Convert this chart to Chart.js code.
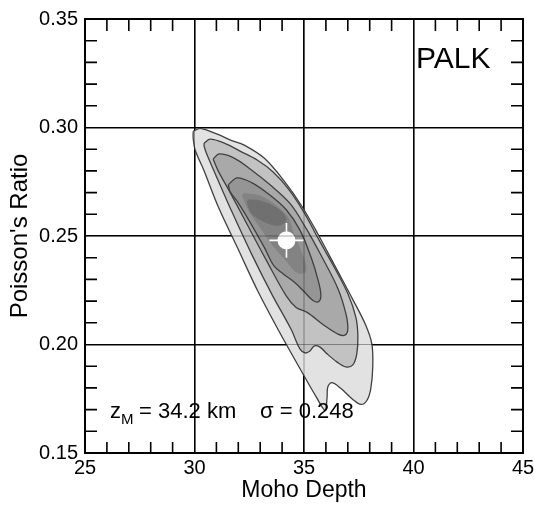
<!DOCTYPE html>
<html>
<head>
<meta charset="utf-8">
<title>PALK H-k stacking</title>
<script src="https://cdn.jsdelivr.net/npm/chart.js@4.4.1/dist/chart.umd.min.js"></script>
<style>
    html, body { margin: 0; padding: 0; background: #fff; }
    canvas { display: block; }
</style>
</head>
<body>
<canvas id="hkChart" width="534" height="505"></canvas>
<script>
const xTickValues = [25, 30, 35, 40, 45];
const yTickValues = [0.15, 0.20, 0.25, 0.30, 0.35];
const xMinorTicks = [26, 27, 28, 29, 31, 32, 33, 34, 36, 37, 38, 39, 41, 42, 43, 44];
const yMinorTicks = [0.16, 0.17, 0.18, 0.19, 0.21, 0.22, 0.23, 0.24, 0.26, 0.27, 0.28, 0.29, 0.31, 0.32, 0.33, 0.34];

// contour levels, outermost first (Moho depth in km, Poisson's ratio)
const level1Depth = [29.94, 30.26, 31.04, 31.67, 32.27, 33.18, 34.09, 34.91, 35.64, 36.46, 37.23, 37.82, 38.10, 38.14, 38.05, 37.87, 37.60, 37.23, 36.69, 36.28, 36.09, 36.05, 35.96, 35.55, 34.82, 33.86, 32.90, 31.99, 31.08, 30.44, 30.03, 29.94, 29.94];
const level1Ratio = [0.2982, 0.2996, 0.2969, 0.2941, 0.2919, 0.2859, 0.2754, 0.2636, 0.2508, 0.2353, 0.2207, 0.2089, 0.2002, 0.1897, 0.1797, 0.1742, 0.1724, 0.1747, 0.1797, 0.1824, 0.1806, 0.1751, 0.1697, 0.1760, 0.1888, 0.2061, 0.2244, 0.2440, 0.2636, 0.2800, 0.2896, 0.2951, 0.2982];

const level2Depth = [30.44, 30.72, 31.36, 32.08, 32.86, 33.59, 34.32, 35.00, 35.64, 36.37, 37.00, 37.37, 37.46, 37.41, 37.23, 36.91, 36.50, 36.05, 35.73, 35.46, 35.27, 35.05, 34.82, 34.41, 33.54, 32.63, 31.72, 30.95, 30.54, 30.44, 30.44];
const level2Ratio = [0.2928, 0.2946, 0.2928, 0.2891, 0.2850, 0.2795, 0.2713, 0.2609, 0.2490, 0.2358, 0.2235, 0.2125, 0.2039, 0.1957, 0.1906, 0.1897, 0.1920, 0.1957, 0.1988, 0.1993, 0.1970, 0.1961, 0.1979, 0.2070, 0.2230, 0.2412, 0.2609, 0.2786, 0.2882, 0.2914, 0.2928];

const level3Depth = [30.85, 31.13, 31.81, 32.54, 33.45, 34.36, 35.09, 35.82, 36.55, 36.91, 37.00, 36.87, 36.55, 35.91, 35.14, 34.64, 34.18, 33.27, 32.40, 31.63, 31.08, 30.85];
const level3Ratio = [0.2855, 0.2878, 0.2859, 0.2809, 0.2736, 0.2650, 0.2536, 0.2403, 0.2257, 0.2143, 0.2070, 0.2043, 0.2048, 0.2089, 0.2148, 0.2171, 0.2225, 0.2390, 0.2554, 0.2700, 0.2800, 0.2855];

const level4Depth = [31.54, 31.95, 32.63, 33.41, 34.18, 34.82, 35.32, 35.64, 35.77, 35.68, 35.41, 35.00, 34.59, 34.04, 33.63, 33.18, 32.54, 31.99, 31.63, 31.54];
const level4Ratio = [0.2736, 0.2768, 0.2745, 0.2691, 0.2622, 0.2526, 0.2403, 0.2298, 0.2230, 0.2198, 0.2203, 0.2244, 0.2285, 0.2326, 0.2362, 0.2449, 0.2563, 0.2654, 0.2704, 0.2736];

// darker shading inside the innermost contour (no outline)
const coreDepth = [32.22, 32.90, 33.63, 34.23, 34.45, 34.82, 35.05, 34.73, 34.23, 33.68, 33.09, 32.54, 32.22];
const coreRatio = [0.2691, 0.2682, 0.2640, 0.2581, 0.2517, 0.2426, 0.2344, 0.2335, 0.2390, 0.2453, 0.2536, 0.2618, 0.2691];
const peakDepth = [32.45, 33.09, 33.82, 34.13, 33.82, 33.18, 32.63, 32.45];
const peakRatio = [0.2663, 0.2654, 0.2618, 0.2577, 0.2554, 0.2572, 0.2609, 0.2663];

// best estimate and its error bars
const bestDepth = 34.2;
const bestRatio = 0.248;
const depthError = 0.78;
const ratioError = 0.008;

const fontFamily = '"Liberation Sans", Arial, Helvetica, sans-serif';

function toPoints(xs, ys) {
    return xs.map((x, i) => ({ x: x, y: ys[i] }));
}

function contourDataset(xs, ys, fillColor, order) {
    return {
        data: toPoints(xs, ys),
        showLine: true,
        fill: 'shape',
        backgroundColor: fillColor,
        borderColor: '#404040',
        borderWidth: 1.3,
        pointRadius: 0,
        tension: 0.35,
        order: order
    };
}

function shadeDataset(xs, ys, fillColor, order) {
    return {
        data: toPoints(xs, ys),
        showLine: true,
        fill: 'shape',
        backgroundColor: fillColor,
        borderColor: fillColor,
        borderWidth: 3,
        pointRadius: 0,
        tension: 0.4,
        order: order
    };
}

// faint grid showing through the shaded area, minor ticks, frame, labels
const frameAndLabels = {
    id: 'frameAndLabels',
    afterDatasetsDraw(chart) {
        const ctx = chart.ctx;
        const area = chart.chartArea;
        ctx.save();
        ctx.strokeStyle = 'rgba(0, 0, 0, 0.35)';
        ctx.lineWidth = 1;
        ctx.beginPath();
        xTickValues.forEach(v => {
            const px = chart.scales.x.getPixelForValue(v);
            ctx.moveTo(px, area.top);
            ctx.lineTo(px, area.bottom);
        });
        yTickValues.forEach(v => {
            const py = chart.scales.y.getPixelForValue(v);
            ctx.moveTo(area.left, py);
            ctx.lineTo(area.right, py);
        });
        ctx.stroke();
        ctx.restore();
    },
    afterDraw(chart) {
        const ctx = chart.ctx;
        const area = chart.chartArea;
        const xs = chart.scales.x;
        const ys = chart.scales.y;

        ctx.save();
        ctx.strokeStyle = '#000';
        ctx.lineWidth = 1.6;
        ctx.beginPath();
        xMinorTicks.forEach(v => {
            const px = xs.getPixelForValue(v);
            ctx.moveTo(px, area.bottom);
            ctx.lineTo(px, area.bottom - 11);
            ctx.moveTo(px, area.top);
            ctx.lineTo(px, area.top + 12);
        });
        yMinorTicks.forEach(v => {
            const py = ys.getPixelForValue(v);
            ctx.moveTo(area.left, py);
            ctx.lineTo(area.left + 12, py);
            ctx.moveTo(area.right, py);
            ctx.lineTo(area.right - 12, py);
        });
        ctx.stroke();

        ctx.lineWidth = 2;
        ctx.strokeRect(area.left, area.top, area.right - area.left, area.bottom - area.top);

        ctx.fillStyle = '#000';
        ctx.textBaseline = 'alphabetic';
        ctx.textAlign = 'left';
        ctx.font = '30px ' + fontFamily;
        ctx.fillText('PALK', 416, 68);

        ctx.font = '22px ' + fontFamily;
        ctx.fillText('z', 110, 418);
        ctx.fillText('= 34.2 km', 139, 418);
        ctx.fillText('σ = 0.248', 260, 418);
        ctx.font = '15px ' + fontFamily;
        ctx.fillText('M', 121, 424);
        ctx.restore();
    }
};

function renderChart() {
    const ctx = document.getElementById('hkChart').getContext('2d');
    new Chart(ctx, {
        type: 'scatter',
        data: {
            datasets: [
                {
                    data: [{ x: bestDepth, y: bestRatio }],
                    pointRadius: 9,
                    pointBackgroundColor: '#fff',
                    pointBorderColor: '#fff',
                    pointBorderWidth: 0,
                    order: 0
                },
                {
                    data: [{ x: bestDepth - depthError, y: bestRatio }, { x: bestDepth + depthError, y: bestRatio }],
                    showLine: true,
                    borderColor: '#fff',
                    borderWidth: 1.6,
                    pointRadius: 0,
                    order: 1
                },
                {
                    data: [{ x: bestDepth, y: bestRatio - ratioError }, { x: bestDepth, y: bestRatio + ratioError }],
                    showLine: true,
                    borderColor: '#fff',
                    borderWidth: 1.6,
                    pointRadius: 0,
                    order: 1
                },
                shadeDataset(peakDepth, peakRatio, '#707070', 2),
                shadeDataset(coreDepth, coreRatio, '#838383', 3),
                contourDataset(level4Depth, level4Ratio, '#959595', 4),
                contourDataset(level3Depth, level3Ratio, '#a9a9a9', 5),
                contourDataset(level2Depth, level2Ratio, '#c2c2c2', 6),
                contourDataset(level1Depth, level1Ratio, '#e2e2e2', 7)
            ]
        },
        options: {
            responsive: false,
            devicePixelRatio: 1,
            animation: false,
            layout: { padding: { top: 15, right: 11, bottom: 0, left: 0 } },
            plugins: {
                legend: { display: false },
                tooltip: { enabled: false }
            },
            scales: {
                x: {
                    type: 'linear',
                    min: 25,
                    max: 45,
                    afterBuildTicks: scale => { scale.ticks = xTickValues.map(v => ({ value: v })); },
                    afterFit: scale => {
                        scale.height = 52;
                        scale.paddingLeft = 11;
                        scale.paddingRight = 11;
                    },
                    grid: { color: '#000', lineWidth: 1.6, drawTicks: false },
                    border: { display: false },
                    ticks: {
                        color: '#000',
                        padding: 3,
                        maxRotation: 0,
                        font: { family: fontFamily, size: 20 }
                    },
                    title: {
                        display: true,
                        text: 'Moho Depth',
                        color: '#000',
                        font: { family: fontFamily, size: 23 },
                        padding: { top: 0, bottom: 1 }
                    }
                },
                y: {
                    type: 'linear',
                    min: 0.15,
                    max: 0.35,
                    afterBuildTicks: scale => { scale.ticks = yTickValues.map(v => ({ value: v })); },
                    afterFit: scale => { scale.width = 85; },
                    grid: { color: '#000', lineWidth: 1.6, drawTicks: false },
                    border: { display: false },
                    ticks: {
                        color: '#000',
                        padding: 7,
                        font: { family: fontFamily, size: 20 },
                        callback: v => Number(v).toFixed(2)
                    },
                    title: {
                        display: true,
                        text: "Poisson's Ratio",
                        color: '#000',
                        font: { family: fontFamily, size: 24 },
                        padding: { top: 6, bottom: 0 }
                    }
                }
            }
        },
        plugins: [frameAndLabels]
    });
}

document.addEventListener('DOMContentLoaded', renderChart);
</script>
</body>
</html>
